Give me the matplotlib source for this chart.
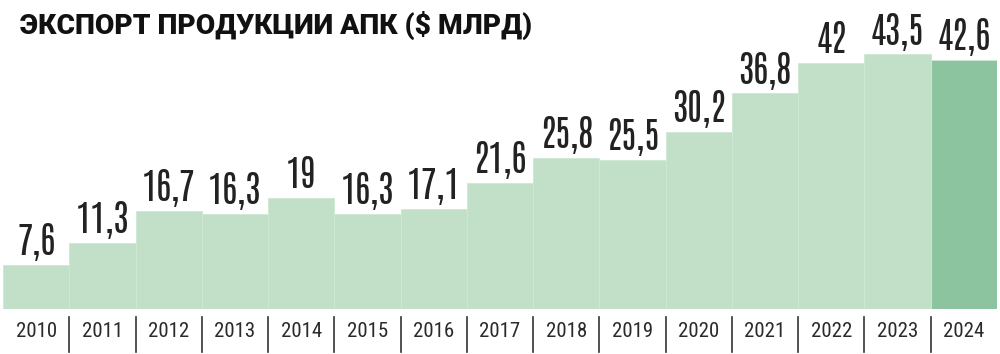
import matplotlib.pyplot as plt
from matplotlib.transforms import blended_transform_factory

years = ['2010', '2011', '2012', '2013', '2014', '2015', '2016', '2017',
         '2018', '2019', '2020', '2021', '2022', '2023', '2024']
values = [7.6, 11.3, 16.7, 16.3, 19, 16.3, 17.1, 21.6,
          25.8, 25.5, 30.2, 36.8, 42, 43.5, 42.6]
labels = ['7,6', '11,3', '16,7', '16,3', '19', '16,3', '17,1', '21,6',
          '25,8', '25,5', '30,2', '36,8', '42', '43,5', '42,6']

light = '#c2dfc8'
dark = '#8cc4a0'

fig = plt.figure(figsize=(10, 3.54), dpi=100)
ax = fig.add_axes([0.003, 0.127, 0.994, 0.873])

x = range(len(years))
colors = [light] * (len(years) - 1) + [dark]
ax.bar(x, values, width=1.0, color=colors, edgecolor='#d0e8d4', linewidth=0.6)

# value labels above the bars
for i, (v, lab) in enumerate(zip(values, labels)):
    ax.annotate(lab, (i, v), xytext=(0, 7), textcoords='offset points',
                ha='center', va='baseline', fontsize=26,
                family=['Antonio', 'DejaVu Sans'], color='#222222')

ax.set_xlim(-0.5, len(years) - 0.5)
ax.set_ylim(0, 52.76)
ax.set_xticks(list(x))
ax.set_xticklabels(years, family=['Roboto Condensed', 'DejaVu Sans'],
                   fontsize=15, color='#2a2a2a')
ax.tick_params(axis='x', length=0, pad=9)
ax.set_yticks([])
for s in ax.spines.values():
    s.set_visible(False)

# separators between year labels
trans = blended_transform_factory(ax.transData, ax.transAxes)
for i in range(len(years) - 1):
    ax.plot([i + 0.5, i + 0.5], [-0.026, -0.14], transform=trans,
            color='#333333', linewidth=1.2, clip_on=False)

fig.text(0.02, 0.929, 'ЭКСПОРТ ПРОДУКЦИИ АПК ($ МЛРД)', fontsize=20.3,
         fontweight=900, family=['Roboto', 'DejaVu Sans'], color='#111111',
         va='center', ha='left')

fig.savefig('out.png', dpi=100)
